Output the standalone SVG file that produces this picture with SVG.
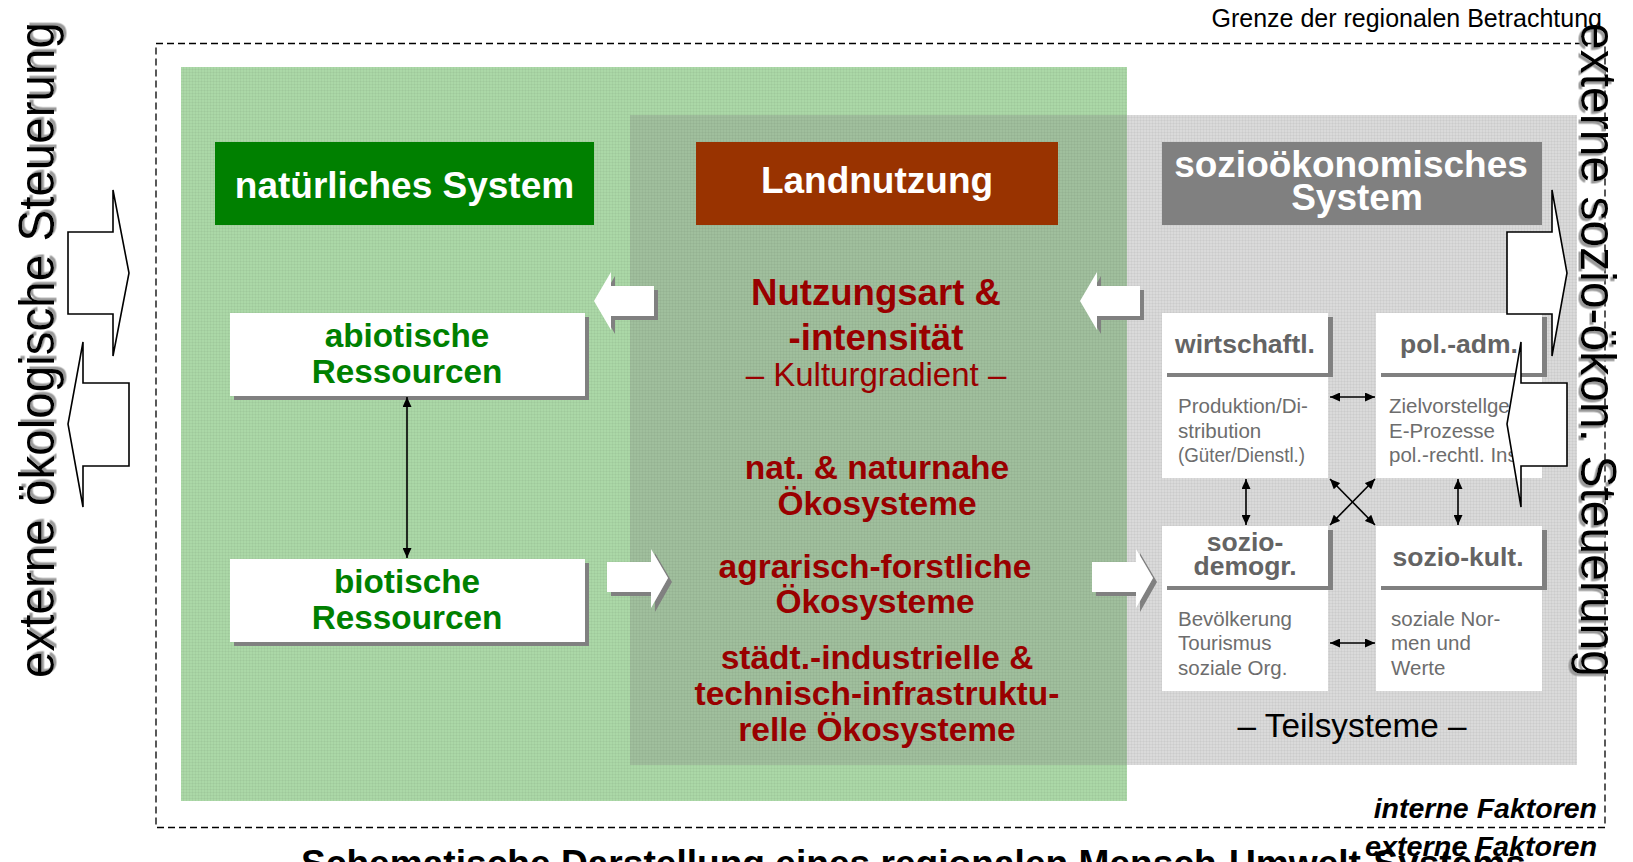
<svg xmlns="http://www.w3.org/2000/svg" width="1633" height="862" viewBox="0 0 1633 862">
<defs>
<style>
text { font-family: 'Liberation Sans', Arial, Helvetica, sans-serif; }
.hdr { font-size: 37px; font-weight: bold; fill: #ffffff; text-anchor: middle; }
.res { font-size: 33.3px; font-weight: bold; fill: #008000; text-anchor: middle; }
.lu { font-size: 33.5px; font-weight: bold; fill: #990000; text-anchor: middle; }
.st { font-size: 26.5px; font-weight: bold; fill: #646464; text-anchor: middle; }
.sb { font-size: 20.5px; fill: #6d6d6d; }
.ext { font-size: 50px; fill: #000000; }
.fak { font-size: 28.5px; font-weight: bold; font-style: italic; fill: #000000; text-anchor: end; }
.outline { fill: #ffffff; stroke: #000000; stroke-width: 1.6; stroke-linejoin: miter; }
.dbl { stroke: #000000; stroke-width: 1.6; fill: none; marker-start: url(#ah); marker-end: url(#ah); }
.wa { fill: #ffffff; filter: url(#drop); }
.box { fill: #ffffff; filter: url(#drop); }
.sub { fill: #ffffff; }
.subhd { fill: #ffffff; filter: url(#drop54); }
</style>
<pattern id="grain" width="3" height="3" patternUnits="userSpaceOnUse">
  <rect width="3" height="1" fill="#000000" fill-opacity="0.035"/>
  <rect width="1" height="3" fill="#000000" fill-opacity="0.035"/>
</pattern>
<filter id="drop" x="-10%" y="-10%" width="130%" height="130%">
  <feDropShadow dx="4" dy="4" stdDeviation="0" flood-color="#808080" flood-opacity="1"/>
</filter>
<filter id="drop54" x="-10%" y="-10%" width="130%" height="130%">
  <feDropShadow dx="5" dy="4" stdDeviation="0" flood-color="#808080" flood-opacity="1"/>
</filter>
<filter id="tsh" x="-5%" y="-20%" width="115%" height="140%">
  <feDropShadow dx="2.5" dy="2.5" stdDeviation="0.6" flood-color="#9a9a9a" flood-opacity="1"/>
</filter>
<marker id="ah" viewBox="0 0 10 9" refX="10" refY="4.5" markerWidth="10" markerHeight="9" markerUnits="userSpaceOnUse" orient="auto-start-reverse">
  <path d="M0,0 L10,4.5 L0,9 z" fill="#000000"/>
</marker>
</defs>

<!-- background and panels -->
<rect x="0" y="0" width="1633" height="862" fill="#ffffff"/>
<rect id="panel-nature" x="181" y="67" width="946" height="734" fill="#abd8a7"/>
<rect id="panel-socio" x="630" y="115" width="947" height="650" fill="#888888" fill-opacity="0.31"/>
<rect x="181" y="67" width="946" height="734" fill="url(#grain)"/>
<rect x="1127" y="115" width="450" height="650" fill="url(#grain)"/>

<!-- regional boundary -->
<rect id="boundary" x="156" y="43.5" width="1449" height="784" fill="none" stroke="#000000" stroke-width="1.3" stroke-dasharray="7 4"/>
<text x="1602" y="27" font-size="25" text-anchor="end" fill="#000000">Grenze der regionalen Betrachtung</text>

<!-- system headers -->
<g id="natural-system">
  <rect x="215" y="142" width="379" height="83" fill="#008000"/>
  <text class="hdr" x="404.5" y="198">natürliches System</text>
</g>
<g id="land-use">
  <rect x="696" y="142" width="362" height="83" fill="#993300"/>
  <text class="hdr" x="877" y="193" font-size="37.5">Landnutzung</text>
</g>
<g id="socioeconomic-system">
  <rect x="1162" y="142" width="380" height="83" fill="#808080"/>
  <text class="hdr" x="1351" y="177">sozioökonomisches</text>
  <text class="hdr" x="1357" y="210">System</text>
</g>

<!-- resources -->
<g id="abiotic-resources">
  <rect class="box" x="230" y="313" width="355" height="83"/>
  <text class="res" x="407" y="347">abiotische</text>
  <text class="res" x="407" y="383">Ressourcen</text>
</g>
<g id="biotic-resources">
  <rect class="box" x="230" y="559" width="355" height="83"/>
  <text class="res" x="407" y="593">biotische</text>
  <text class="res" x="407" y="629">Ressourcen</text>
</g>

<!-- land use contents -->
<g id="land-use-type">
  <text x="876" y="305" font-size="36.6" font-weight="bold" fill="#990000" text-anchor="middle">Nutzungsart &amp;</text>
  <text x="876" y="350" font-size="36.6" font-weight="bold" fill="#990000" text-anchor="middle">-intensität</text>
  <text x="876" y="386" font-size="33" fill="#990000" text-anchor="middle">– Kulturgradient –</text>
</g>
<g id="natural-ecosystems">
  <text class="lu" x="877" y="479">nat. &amp; naturnahe</text>
  <text class="lu" x="877" y="515">Ökosysteme</text>
</g>
<g id="agri-forest-ecosystems">
  <text class="lu" x="875" y="578">agrarisch-forstliche</text>
  <text class="lu" x="875" y="613">Ökosysteme</text>
</g>
<g id="urban-ecosystems">
  <text class="lu" x="877" y="669">städt.-industrielle &amp;</text>
  <text class="lu" x="877" y="705">technisch-infrastruktu-</text>
  <text class="lu" x="877" y="741">relle Ökosysteme</text>
</g>

<!-- subsystems -->
<g id="sub-economic">
  <rect class="sub" x="1162" y="313" width="166" height="165"/>
  <rect class="subhd" x="1162" y="313" width="166" height="60"/>
  <text class="st" x="1245" y="353">wirtschaftl.</text>
  <text class="sb" x="1178" y="413"><tspan x="1178">Produktion/Di-</tspan><tspan x="1178" y="437.5">stribution</tspan><tspan x="1178" y="462" textLength="127" lengthAdjust="spacingAndGlyphs">(Güter/Dienstl.)</tspan></text>
</g>
<g id="sub-political">
  <rect class="sub" x="1376" y="313" width="166" height="165"/>
  <rect class="subhd" x="1376" y="313" width="166" height="60"/>
  <text class="st" x="1459" y="353">pol.-adm.</text>
  <text class="sb" x="1389" y="413"><tspan x="1389">Zielvorstellge</tspan><tspan x="1389" y="437.5">E-Prozesse</tspan><tspan x="1389" y="462">pol.-rechtl. Ins</tspan></text>
</g>
<g id="sub-demographic">
  <rect class="sub" x="1162" y="526" width="166" height="165"/>
  <rect class="subhd" x="1162" y="526" width="166" height="60"/>
  <text class="st" x="1245" y="551">sozio-</text>
  <text class="st" x="1245" y="575">demogr.</text>
  <text class="sb" x="1178" y="626"><tspan x="1178">Bevölkerung</tspan><tspan x="1178" y="650">Tourismus</tspan><tspan x="1178" y="674.5">soziale Org.</tspan></text>
</g>
<g id="sub-cultural">
  <rect class="sub" x="1376" y="526" width="166" height="165"/>
  <rect class="subhd" x="1376" y="526" width="166" height="60"/>
  <text class="st" x="1458" y="566">sozio-kult.</text>
  <text class="sb" x="1391" y="626"><tspan x="1391">soziale Nor-</tspan><tspan x="1391" y="650">men und</tspan><tspan x="1391" y="674.5">Werte</tspan></text>
</g>
<text x="1352" y="737" font-size="33.3" fill="#000000" text-anchor="middle">– Teilsysteme –</text>

<!-- connectors -->
<g id="connectors">
  <line class="dbl" x1="407" y1="397" x2="407" y2="558"/>
  <line class="dbl" x1="1330" y1="397" x2="1375" y2="397"/>
  <line class="dbl" x1="1330" y1="643" x2="1375" y2="643"/>
  <line class="dbl" x1="1246" y1="479" x2="1246" y2="525"/>
  <line class="dbl" x1="1458" y1="479" x2="1458" y2="525"/>
  <line class="dbl" x1="1330" y1="479" x2="1375" y2="525"/>
  <line class="dbl" x1="1375" y1="479" x2="1330" y2="525"/>
  <polygon class="wa" points="594,301 611,272 611,286 654,286 654,316 611,316 611,330"/>
  <polygon class="wa" points="1080,301 1097,272 1097,286 1140,286 1140,316 1097,316 1097,330"/>
  <polygon class="wa" points="607,562 651,562 651,549 668,578 651,608 651,592 607,592"/>
  <polygon class="wa" points="1092,562 1136,562 1136,549 1153,578 1136,608 1136,592 1092,592"/>
  <polygon class="outline" points="68,232 113,232 113,190 129,273 113,356 113,314 68,314"/>
  <polygon class="outline" points="129,383 83,383 83,342 68,424 83,507 83,466 129,466"/>
  <polygon class="outline" points="1507,232 1552,232 1552,190 1567,273 1552,356 1552,314 1507,314"/>
  <polygon class="outline" points="1567,383 1521,383 1521,342 1507,424 1521,507 1521,466 1567,466"/>
</g>

<!-- external control labels -->
<text class="ext" filter="url(#tsh)" transform="translate(54,678) rotate(-90)" textLength="656" lengthAdjust="spacingAndGlyphs">externe ökologische Steuerung</text>
<text class="ext" filter="url(#tsh)" transform="translate(1581,23) rotate(90)" textLength="654" lengthAdjust="spacingAndGlyphs">externe sozio-ökon. Steuerung</text>

<!-- factor labels and caption -->
<text x="301" y="876" font-size="37" font-weight="bold" fill="#000000" textLength="1225" lengthAdjust="spacingAndGlyphs">Schematische Darstellung eines regionalen Mensch-Umwelt-Systems</text>
<text class="fak" x="1597" y="818">interne Faktoren</text>
<text class="fak" x="1597" y="856" textLength="232" lengthAdjust="spacingAndGlyphs">externe Faktoren</text>
</svg>
